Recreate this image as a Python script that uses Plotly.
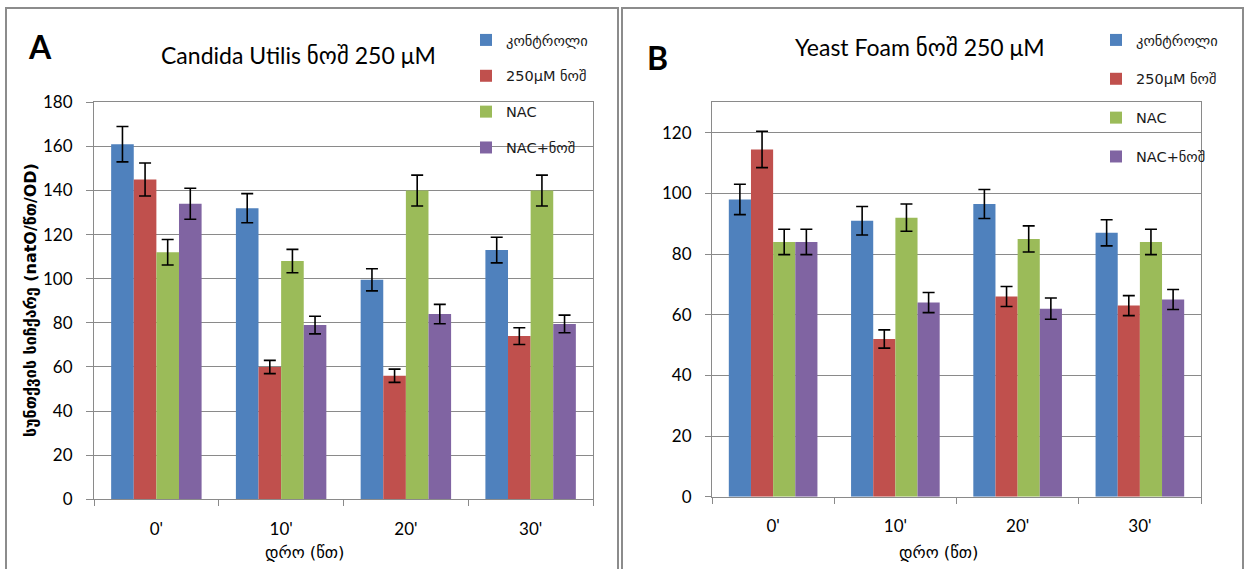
import plotly.graph_objects as go

W, H = 1245, 569

times = ["0'", "10'", "20'", "30'"]
series_names = ["კონტროლი", "250μM ნოშ", "NAC", "NAC+ნოშ"]
colors = ["#4F81BD", "#C0504D", "#9BBB59", "#8064A2"]

# Panel A: Candida utilis
cu_control = [161, 132, 99.5, 113]
cu_nosh = [145, 60, 56, 74]
cu_nac = [112, 108, 140, 140]
cu_nac_nosh = [134, 79, 84, 79.5]
cu_control_err = [8, 6.6, 5, 5.8]
cu_nosh_err = [7.5, 3, 3, 3.8]
cu_nac_err = [5.8, 5.3, 7, 7]
cu_nac_nosh_err = [7, 4, 4.4, 4]

# Panel B: Yeast Foam
yf_control = [98, 91, 96.5, 87]
yf_nosh = [114.5, 52, 66, 63]
yf_nac = [84, 92, 85, 84]
yf_nac_nosh = [84, 64, 62, 65]
yf_control_err = [5, 4.7, 4.8, 4.3]
yf_nosh_err = [6, 3, 3.3, 3.3]
yf_nac_err = [4.2, 4.5, 4.3, 4.2]
yf_nac_nosh_err = [4.2, 3.3, 3.5, 3.3]

yticks_a = [0, 20, 40, 60, 80, 100, 120, 140, 160, 180]
yticks_b = [0, 20, 40, 60, 80, 100, 120]

FONT = "Lato, 'DejaVu Sans', sans-serif"
GEO = "'DejaVu Sans', Lato, sans-serif"
GRID = "#8a8a8a"


def px_x(p):
    return p / W


def px_y(p):
    return 1 - p / H


fig = go.Figure()

panels = [
    ("x", "y", "legend", [cu_control, cu_nosh, cu_nac, cu_nac_nosh],
     [cu_control_err, cu_nosh_err, cu_nac_err, cu_nac_nosh_err]),
    ("x2", "y2", "legend2", [yf_control, yf_nosh, yf_nac, yf_nac_nosh],
     [yf_control_err, yf_nosh_err, yf_nac_err, yf_nac_nosh_err]),
]

for xa, ya, lg, vals, errs in panels:
    for i, (name, v, e) in enumerate(zip(series_names, vals, errs)):
        fig.add_trace(go.Bar(
            x=times, y=v, name=name, xaxis=xa, yaxis=ya,
            marker=dict(color=colors[i], line=dict(width=0)),
            error_y=dict(type="data", array=e, color="black",
                         thickness=1.6, width=6),
            legend=lg, legendgroup=f"{lg}-{i}",
        ))

axis_common = dict(
    showline=True, linecolor=GRID, linewidth=1, mirror=True,
    automargin=False,
    tickfont=dict(family=FONT, size=17, color="black"),
)

fig.update_layout(
    width=W, height=H,
    margin=dict(l=0, r=0, t=0, b=0, autoexpand=False),
    paper_bgcolor="white", plot_bgcolor="white",
    barmode="group", bargap=0.275, bargroupgap=0,
    showlegend=True,
    xaxis=dict(domain=[px_x(94), px_x(593)], anchor="y",
               ticks="outside", ticklen=6, tickcolor=GRID,
               tickson="boundaries", ticklabelstandoff=14, **axis_common),
    yaxis=dict(domain=[px_y(499.3), px_y(102.3)], anchor="x",
               range=[0, 180], tickvals=yticks_a,
               ticks="outside", ticklen=7, tickcolor=GRID,
               showgrid=True, gridcolor=GRID, gridwidth=1,
               ticklabelstandoff=10, **axis_common),
    xaxis2=dict(domain=[px_x(712), px_x(1201)], anchor="y2",
                ticks="outside", ticklen=6, tickcolor=GRID,
                tickson="boundaries", ticklabelstandoff=14, **axis_common),
    yaxis2=dict(domain=[px_y(496.7), px_y(102.4)], anchor="x2",
                range=[0, 130], tickvals=yticks_b,
                ticks="outside", ticklen=6, tickcolor=GRID,
                showgrid=True, gridcolor=GRID, gridwidth=1,
                ticklabelstandoff=10, **axis_common),
    legend=dict(x=px_x(466), y=px_y(24), xanchor="left", yanchor="top",
                bgcolor="rgba(0,0,0,0)", borderwidth=0,
                traceorder="grouped", tracegroupgap=14,
                font=dict(family=GEO, size=14.5, color="#1a1a1a")),
    legend2=dict(x=px_x(1096), y=px_y(24), xanchor="left", yanchor="top",
                 bgcolor="rgba(0,0,0,0)", borderwidth=0,
                 traceorder="grouped", tracegroupgap=17,
                 font=dict(family=GEO, size=14.5, color="#1a1a1a")),
)

# panel frames
for x0, x1 in [(6, 618), (622, 1243)]:
    fig.add_shape(type="rect", xref="paper", yref="paper",
                  x0=px_x(x0), x1=px_x(x1), y0=px_y(580), y1=px_y(8),
                  line=dict(color="#8c8c8c", width=2), layer="below")

annotations = [
    dict(text="<b>A</b>", x=40, y=47, size=32, family=FONT),
    dict(text="<b>B</b>", x=657, y=57, size=32, family=FONT),
    dict(text="Candida Utilis ნოშ 250 μM", x=298, y=55, size=23, family=FONT),
    dict(text="Yeast Foam ნოშ 250 μM", x=920, y=47, size=23, family=FONT),
    dict(text="დრო (წთ)", x=304, y=552, size=16.5, family=GEO),
    dict(text="დრო (წთ)", x=938, y=552, size=16.5, family=GEO),
]
for a in annotations:
    fig.add_annotation(text=a["text"], xref="paper", yref="paper",
                       x=px_x(a["x"]), y=px_y(a["y"]),
                       xanchor="center", yanchor="middle", showarrow=False,
                       font=dict(family=a["family"], size=a["size"],
                                 color="black"))

fig.add_annotation(text="<b>სუნთქვის სიჩქარე (natO/წთ/OD)</b>",
                   xref="paper", yref="paper", x=px_x(30), y=px_y(300),
                   xanchor="center", yanchor="middle", showarrow=False,
                   textangle=-90,
                   font=dict(family=GEO, size=16, color="black"))

fig.write_html("out.html")
